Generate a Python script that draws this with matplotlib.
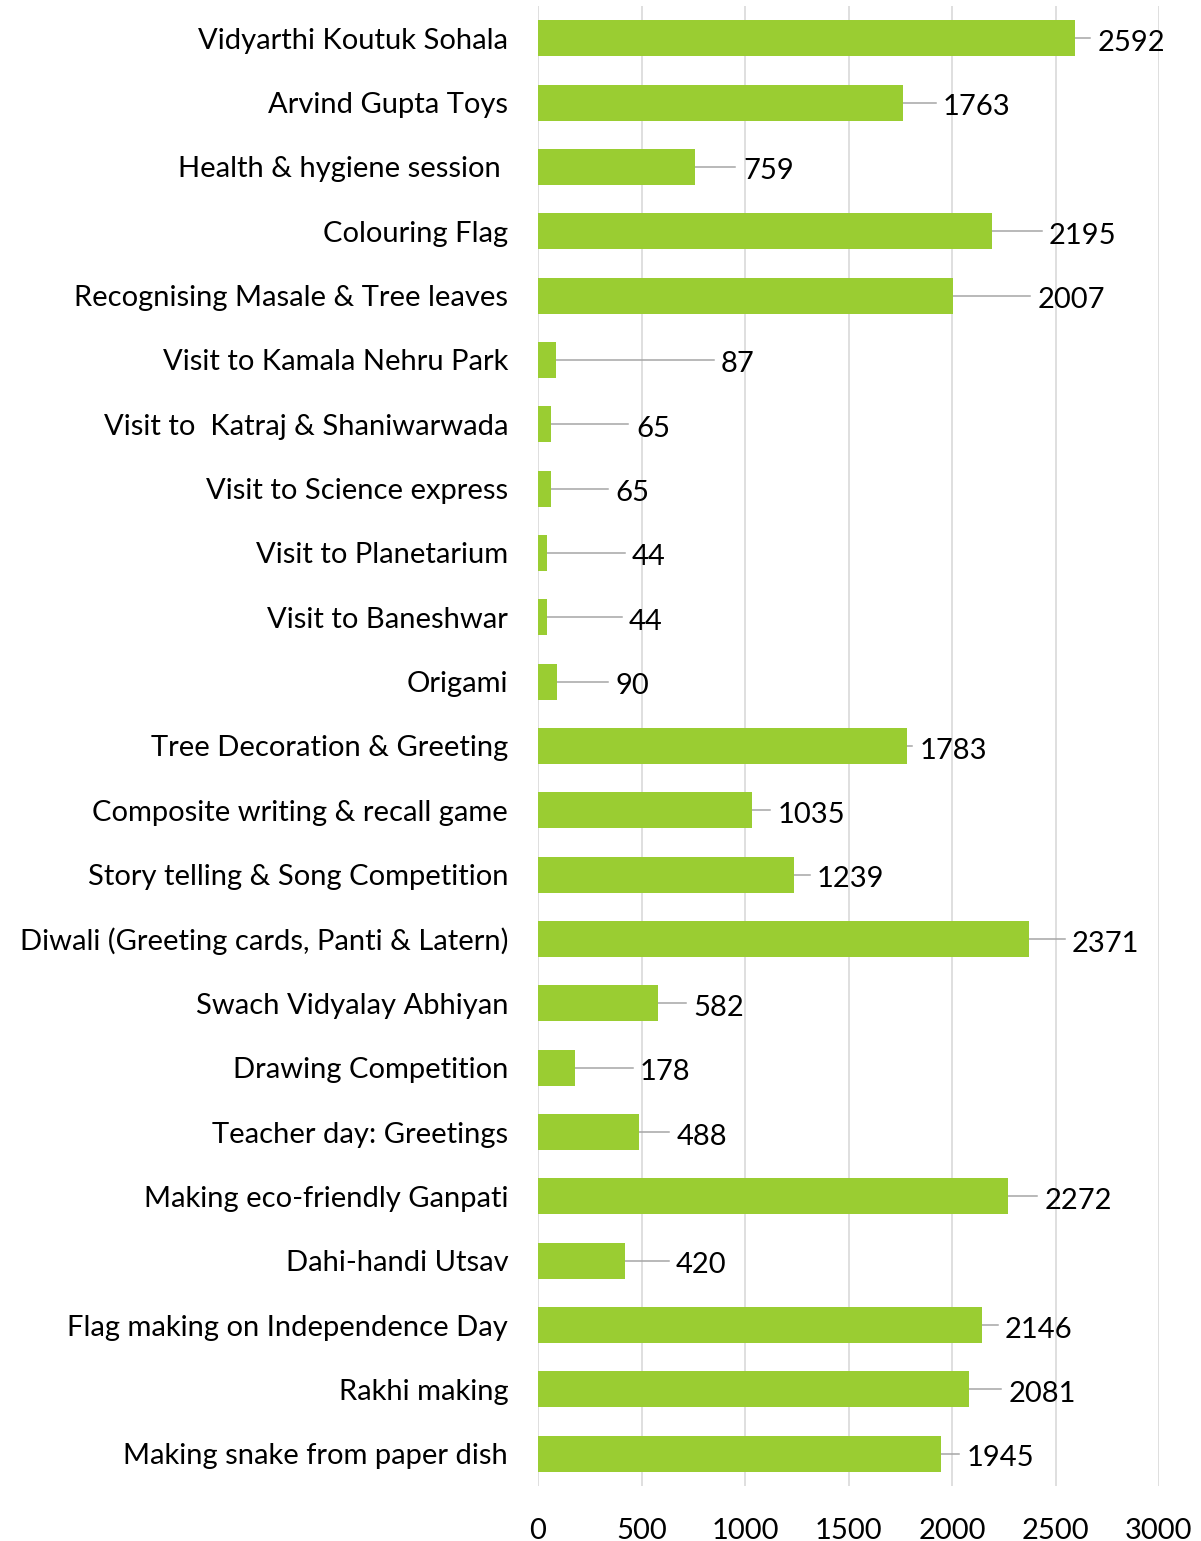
import matplotlib
matplotlib.use("Agg")
import matplotlib.pyplot as plt

activities = [
    "Vidyarthi Koutuk Sohala",
    "Arvind Gupta Toys",
    "Health & hygiene session ",
    "Colouring Flag",
    "Recognising Masale & Tree leaves",
    "Visit to Kamala Nehru Park",
    "Visit to  Katraj & Shaniwarwada",
    "Visit to Science express",
    "Visit to Planetarium",
    "Visit to Baneshwar",
    "Origami",
    "Tree Decoration & Greeting",
    "Composite writing & recall game",
    "Story telling & Song Competition",
    "Diwali (Greeting cards, Panti & Latern)",
    "Swach Vidyalay Abhiyan",
    "Drawing Competition",
    "Teacher day: Greetings",
    "Making eco-friendly Ganpati",
    "Dahi-handi Utsav",
    "Flag making on Independence Day",
    "Rakhi making",
    "Making snake from paper dish",
]
students = [2592, 1763, 759, 2195, 2007, 87, 65, 65, 44, 44, 90, 1783, 1035,
            1239, 2371, 582, 178, 488, 2272, 420, 2146, 2081, 1945]

# how far each data label was dragged away from the bar end (data units)
label_gap = [113, 194, 231, 274, 408, 797, 408, 307, 410, 396, 282, 62, 124,
             109, 209, 167, 315, 183, 177, 247, 110, 194, 127]

plt.rcParams['font.family'] = ['Lato', 'DejaVu Sans']

fig = plt.figure(figsize=(12.01, 15.41), dpi=100)
ax = fig.add_axes([538 / 1201, 1 - 1486 / 1541, 621 / 1201, 1480 / 1541])

pos = list(range(len(activities)))
ax.barh(pos, students, height=0.56, color="#9ACD32", zorder=3)

for y, v, g in zip(pos, students, label_gap):
    lx = v + g
    ax.plot([v, lx - 36], [y, y], color="#A6A6A6", lw=1.1, zorder=2)
    ax.text(lx, y + 0.07, str(v), va="center", ha="left", fontsize=21,
            color="black", zorder=4)

ax.set_xlim(0, 3000)
ax.set_ylim(len(activities) - 0.5, -0.5)
ax.set_xticks(range(0, 3001, 500))
ax.set_yticks(pos)
ax.set_yticklabels(activities)
ax.grid(axis="x", color="#D9D9D9", lw=1.2, zorder=0)
ax.tick_params(axis="both", length=0, labelsize=21)
ax.tick_params(axis="y", pad=21.5)
ax.tick_params(axis="x", pad=23)
for s in ax.spines.values():
    s.set_visible(False)

fig.savefig("out.png", dpi=100)
